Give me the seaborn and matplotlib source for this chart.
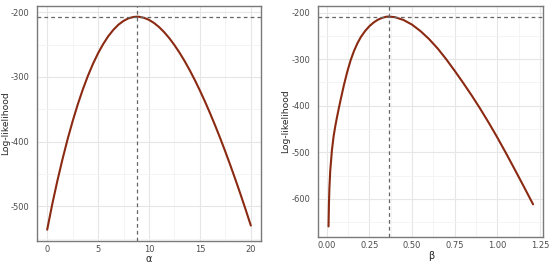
import numpy as np
import pandas as pd
import matplotlib
matplotlib.use("Agg")
import matplotlib.pyplot as plt
from matplotlib.ticker import MultipleLocator
import seaborn as sns

# profile log-likelihood in alpha
alpha = [0, 0.5, 1, 1.5, 2, 2.5, 3, 3.5, 4, 4.5, 5, 5.5, 6, 6.5, 7, 7.5, 8, 8.5, 8.82,
         9, 9.5, 10, 10.5, 11, 11.5, 12, 12.5, 13, 13.5, 14, 14.5, 15, 15.5, 16, 16.5,
         17, 17.5, 18, 18.5, 19, 19.5, 20]
ll_alpha = [-536, -496.5, -460.6, -427.4, -396.6, -368.5, -342.7, -319.4, -298.4, -279.8,
            -263.4, -249.3, -237.2, -227.3, -219.3, -213.5, -209.4, -207.4, -207.0,
            -207.1, -208.7, -211.9, -216.8, -223.2, -231.1, -240.3, -250.9, -262.7, -275.6,
            -289.7, -304.9, -321.1, -338.2, -356.3, -375.2, -395, -415.6, -437, -459.1,
            -481.9, -505.4, -529.6]
alpha_hat = 8.82
ll_alpha_max = -207.0

# profile log-likelihood in beta
beta = [0.01, 0.0125, 0.015, 0.02, 0.03, 0.04, 0.05, 0.06, 0.07, 0.08, 0.10, 0.12, 0.14,
        0.16, 0.18, 0.20, 0.225, 0.25, 0.275, 0.30, 0.325, 0.35, 0.363, 0.40, 0.45, 0.50,
        0.55, 0.60, 0.65, 0.70, 0.75, 0.80, 0.85, 0.90, 0.95, 1.00, 1.05, 1.10, 1.15,
        1.20, 1.21]
ll_beta = [-659, -610, -578, -540, -495, -465, -443, -424, -406, -389, -356, -327, -302,
           -282, -265.6, -252.4, -239.4, -229.2, -221.3, -215.3, -211.4, -209.0, -208.6,
           -210, -216, -226, -240, -257, -277, -300, -325, -351, -378, -406.5, -436.5,
           -468, -501, -535, -569.5, -604.5, -611.5]
beta_hat = 0.363
ll_beta_max = -208.6

df_a = pd.DataFrame({"alpha": alpha, "ll": ll_alpha})
df_b = pd.DataFrame({"beta": beta, "ll": ll_beta})

sns.set_theme(style="whitegrid")
plt.rcParams["font.family"] = ["DejaVu Sans"]
plt.rcParams["axes.unicode_minus"] = False

line_col = "#8B2A12"
grid_major = "#e6e6e6"
grid_minor = "#f3f3f3"

fig = plt.figure(figsize=(5.5, 2.64), dpi=100)
ax1 = fig.add_axes([37/550, 1-241/264, 224/550, 235/264])
ax2 = fig.add_axes([318.3/550, 1-236.7/264, 225/550, 230.7/264])


def style(ax, xmaj, xmin, ymaj, ymin):
    ax.set_facecolor("white")
    ax.xaxis.set_major_locator(MultipleLocator(xmaj))
    ax.xaxis.set_minor_locator(MultipleLocator(xmin))
    ax.yaxis.set_major_locator(MultipleLocator(ymaj))
    ax.yaxis.set_minor_locator(MultipleLocator(ymin))
    ax.grid(which="major", color=grid_major, linewidth=0.8)
    ax.grid(which="minor", color=grid_minor, linewidth=0.6)
    ax.set_axisbelow(True)
    for s in ax.spines.values():
        s.set_color("#7a7a7a")
        s.set_linewidth(1.0)
    ax.tick_params(which="major", length=2, width=0.6, color="#666666",
                   labelsize=6, labelcolor="#4d4d4d")
    ax.tick_params(axis="y", which="major", pad=3.5)
    ax.tick_params(axis="x", which="major", pad=1)
    ax.tick_params(which="minor", length=0)


sns.lineplot(data=df_a, x="alpha", y="ll", ax=ax1, color=line_col, linewidth=1.5)
ax1.axvline(alpha_hat, color="#666666", linestyle=(0, (3, 2.5)), linewidth=0.9)
ax1.axhline(ll_alpha_max, color="#666666", linestyle=(0, (3, 2.5)), linewidth=0.9)
ax1.set_xlim(-1, 21)
ax1.set_ylim(-553.5, -190.5)
style(ax1, 5, 2.5, 100, 50)
ax1.set_xlabel("α", fontsize=7, labelpad=0)
ax1.set_ylabel("Log-likelihood", fontsize=6.6)
ax1.yaxis.set_label_coords(-0.122, 0.5)

sns.lineplot(data=df_b, x="beta", y="ll", ax=ax2, color=line_col, linewidth=1.5)
ax2.axvline(beta_hat, color="#666666", linestyle=(0, (3, 2.5)), linewidth=0.9)
ax2.axhline(ll_beta_max, color="#666666", linestyle=(0, (3, 2.5)), linewidth=0.9)
ax2.set_xlim(-0.05, 1.27)
ax2.set_ylim(-681, -186)
style(ax2, 0.25, 0.125, 100, 50)
ax2.set_xticks([0, 0.25, 0.5, 0.75, 1.0, 1.25])
ax2.set_xticklabels(["0.00", "0.25", "0.50", "0.75", "1.00", "1.25"])
ax2.set_xlabel("β", fontsize=7, labelpad=1)
ax2.set_ylabel("Log-likelihood", fontsize=6.6)
ax2.yaxis.set_label_coords(-0.125, 0.5)

fig.savefig("out.png", dpi=100, facecolor="white")
